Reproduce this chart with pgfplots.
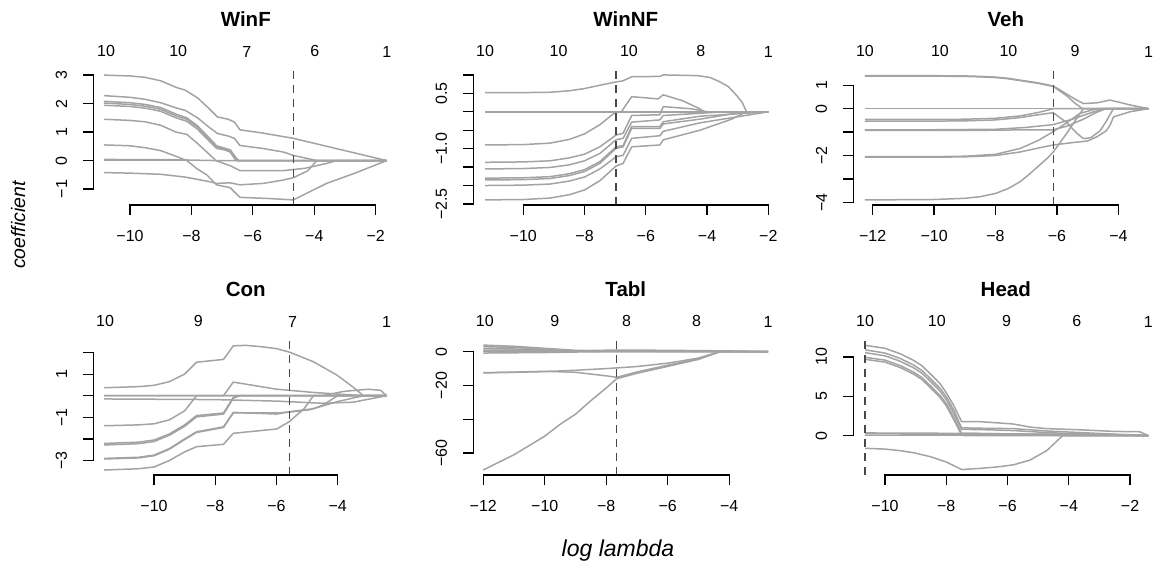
\documentclass[border=0pt]{standalone}
\usepackage{pgfplots}
\pgfplotsset{compat=1.18}
\usepackage{fontspec}
\setmainfont{Liberation Sans}
\definecolor{curvecol}{HTML}{A3A3A3}
\definecolor{dashcol}{HTML}{484848}
\newcommand\tickfont{\fontsize{16bp}{18bp}\selectfont}
\newcommand\titlefont{\fontsize{20.5bp}{24bp}\selectfont\bfseries}
\tikzset{
  cv/.style={color=curvecol, line width=1.5bp, line join=round},
  dl/.style={color=dashcol, line width=1.6bp, dash pattern=on 8bp off 6bp},
  axl/.style={black, line width=1.2bp, line cap=rect},
}
\pgfplotsset{
  rbase/.style={scale only axis, width=305bp, height=134.8bp, anchor=south west, clip=false},
  rpanel/.style={rbase, axis x line*=bottom, axis y line*=left, axis line style={draw=none},
    tick align=outside, major tick length=10bp, tick style={black, line width=1.2bp},
    xticklabel style={font=\tickfont, inner sep=0pt, anchor=north},
    yticklabel style={font=\tickfont, rotate=90, anchor=south, inner sep=0pt},
    xticklabel shift=15bp, yticklabel shift=16bp,
    title style={font=\titlefont, at={(0.5,1)}, anchor=base, yshift=37.5bp}},
  rtop/.style={rbase, axis x line*=top, axis y line=none, axis line style={draw=none},
    major tick length=0pt, ytick=\empty, ymin=0, ymax=1,
    xticklabel style={font=\tickfont, inner sep=0pt, anchor=south}, xticklabel shift=12.9bp},
}
\begin{document}
\begin{tikzpicture}
\path[use as bounding box] (0,0) rectangle (1157bp,562bp);

% ---------------- WinF ----------------
\begin{axis}[rpanel, at={(93.3bp,357bp)}, title={WinF},
  xmin=-11.195, xmax=-1.264, ymin=-1.558, ymax=3.172,
  xtick={-10,-8,-6,-4,-2}, xticklabels={−10,−8,−6,−4,−2},
  ytick={-1,0,1,2,3}, yticklabels={−1,0,1,2,3}]
\addplot[cv] coordinates {(-10.85,3.0)(-10,2.97)(-9.5,2.92)(-9,2.8)(-8.5,2.57)(-8.2,2.47)(-7.8,2.2)(-7.4,1.8)(-7.15,1.53)(-6.8,1.45)(-6.6,1.35)(-6.42,1.08)(-5.7,0.97)(-4.68,0.78)(-1.64,0)};
\addplot[cv] coordinates {(-10.85,2.28)(-10,2.22)(-9.5,2.15)(-9,2.03)(-8.5,1.85)(-8.2,1.76)(-7.8,1.5)(-7.4,1.15)(-7.15,0.95)(-6.8,0.86)(-6.6,0.78)(-6.42,0.53)(-5.7,0.43)(-5,0.3)(-4.68,0.18)(-3.9,0)(-1.64,0)};
\addplot[cv] coordinates {(-10.85,2.08)(-10,2.03)(-9.5,1.97)(-9,1.86)(-8.5,1.63)(-8.15,1.5)(-7.8,1.22)(-7.4,0.77)(-7.18,0.52)(-6.9,0.43)(-6.74,0.38)(-6.55,0.1)(-6.45,0)(-1.64,0)};
\addplot[cv] coordinates {(-10.85,2.02)(-10,1.97)(-9.5,1.91)(-9,1.8)(-8.5,1.57)(-8.15,1.45)(-7.8,1.17)(-7.4,0.72)(-7.18,0.47)(-6.9,0.4)(-6.74,0.34)(-6.55,0.05)(-6.5,0)(-1.64,0)};
\addplot[cv] coordinates {(-10.85,1.94)(-10,1.9)(-9.5,1.84)(-9,1.73)(-8.5,1.5)(-8.15,1.38)(-7.8,1.1)(-7.4,0.66)(-7.18,0.43)(-6.9,0.37)(-6.74,0.3)(-6.6,0.08)(-6.55,0)(-1.64,0)};
\addplot[cv] coordinates {(-10.85,1.45)(-10,1.41)(-9.5,1.36)(-9,1.24)(-8.5,1.0)(-8.15,0.92)(-7.8,0.6)(-7.4,0.2)(-7.2,0)(-1.64,0)};
\addplot[cv] coordinates {(-10.85,0.55)(-10,0.52)(-9.5,0.45)(-9,0.35)(-8.5,0.15)(-8.15,0)(-7.8,-0.3)(-7.5,-0.5)(-7.18,-0.85)(-6.74,-0.95)(-6.42,-1.29)(-5.5,-1.33)(-4.68,-1.38)(-3.6,-0.8)(-2.7,-0.45)(-1.64,0)};
\addplot[cv] coordinates {(-10.85,0.04)(-8.5,0.03)(-7.2,0.0)(-6.74,-0.18)(-6.42,-0.35)(-5,-0.35)(-4.3,-0.27)(-3.6,-0.1)(-3.27,0)(-1.64,0)};
\addplot[cv] coordinates {(-10.85,0)(-1.64,0)};
\addplot[cv] coordinates {(-10.85,-0.42)(-10,-0.44)(-9,-0.48)(-8.2,-0.58)(-7.5,-0.72)(-7.18,-0.8)(-6.74,-0.78)(-6.42,-0.85)(-5.66,-0.8)(-5,-0.68)(-4.68,-0.6)(-4.2,-0.35)(-3.92,0)(-1.64,0)};
\addplot[dl] coordinates {(-4.68,-1.558)(-4.68,3.172)};
\draw[axl] (axis cs:-10,-1.558) -- (axis cs:-2,-1.558);
\draw[axl] (axis cs:-11.195,-1) -- (axis cs:-11.195,3);
\end{axis}
\begin{axis}[rtop, at={(93.3bp,357bp)}, xmin=-11.195, xmax=-1.264,
  xtick={-10.78,-8.43,-6.2,-3.98,-1.64}, xticklabels={10,10,7,6,1}]
\end{axis}

% ---------------- WinNF ----------------
\begin{axis}[rpanel, at={(473.3bp,357bp)}, title={WinNF},
  xmin=-11.632, xmax=-1.673, ymin=-2.528, ymax=1.128,
  xtick={-10,-8,-6,-4,-2}, xticklabels={−10,−8,−6,−4,−2},
  ytick={-2.5,-2,-1.5,-1,-0.5,0,0.5,1}, yticklabels={−2.5,,,−1.0,,,0.5,}]
\addplot[cv] coordinates {(-11.25,0.52)(-10,0.52)(-9.13,0.53)(-8.5,0.57)(-8,0.63)(-7.5,0.72)(-6.97,0.81)(-6.74,0.84)(-6.46,0.95)(-5.54,0.96)(-5.43,1.0)(-4.3,0.98)(-3.9,0.93)(-3.6,0.82)(-3.3,0.68)(-3.04,0.45)(-2.85,0.25)(-2.71,0)(-2,0)};
\addplot[cv] coordinates {(-11.25,0)(-6.8,0)(-6.46,0.41)(-5.6,0.35)(-5.43,0.46)(-4.8,0.3)(-4.23,0.08)(-4.1,0)(-2,0)};
\addplot[cv] coordinates {(-11.25,-0.9)(-10,-0.89)(-9.13,-0.85)(-8.5,-0.75)(-8,-0.6)(-7.5,-0.35)(-7.2,-0.15)(-6.97,0)(-2,0)};
\addplot[cv] coordinates {(-11.25,-1.37)(-10,-1.36)(-9.13,-1.33)(-8.5,-1.25)(-8,-1.15)(-7.5,-0.95)(-6.97,-0.63)(-6.74,-0.58)(-6.46,-0.1)(-5.54,-0.08)(-5.43,0.14)(-4.5,0.08)(-4,0)(-2,0)};
\addplot[cv] coordinates {(-11.25,-1.55)(-10,-1.54)(-9.13,-1.51)(-8.5,-1.44)(-8,-1.33)(-7.5,-1.13)(-6.97,-0.76)(-6.74,-0.72)(-6.46,-0.28)(-5.54,-0.22)(-5.43,-0.1)(-4.2,-0.04)(-3.5,0)(-2,0)};
\addplot[cv] coordinates {(-11.25,-1.8)(-10,-1.79)(-9.13,-1.76)(-8.5,-1.68)(-8,-1.57)(-7.5,-1.35)(-6.97,-0.95)(-6.74,-0.92)(-6.46,-0.4)(-5.54,-0.4)(-5.43,-0.27)(-4.23,-0.12)(-2,0)};
\addplot[cv] coordinates {(-11.25,-1.85)(-10,-1.84)(-9.13,-1.81)(-8.5,-1.73)(-8,-1.62)(-7.5,-1.4)(-6.97,-0.99)(-6.74,-0.95)(-6.46,-0.45)(-5.54,-0.45)(-5.43,-0.33)(-4.23,-0.2)(-3.2,-0.06)(-2.71,0)(-2,0)};
\addplot[cv] coordinates {(-11.25,-2.0)(-10,-1.99)(-9.13,-1.96)(-8.5,-1.88)(-8,-1.77)(-7.5,-1.55)(-6.97,-1.22)(-6.74,-1.18)(-6.46,-0.72)(-5.54,-0.65)(-5.43,-0.53)(-4.23,-0.3)(-2,0)};
\addplot[cv] coordinates {(-11.25,-2.39)(-10,-2.38)(-9.13,-2.34)(-8.5,-2.25)(-8,-2.12)(-7.5,-1.87)(-6.97,-1.47)(-6.74,-1.4)(-6.46,-0.95)(-5.54,-0.9)(-5.43,-0.76)(-4.23,-0.5)(-3.2,-0.2)(-2.71,0)(-2,0)};
\addplot[cv] coordinates {(-11.25,0)(-2,0)};
\addplot[dl] coordinates {(-6.97,-2.528)(-6.97,1.128)};
\draw[axl] (axis cs:-10,-2.528) -- (axis cs:-2,-2.528);
\draw[axl] (axis cs:-11.632,-2.5) -- (axis cs:-11.632,1);
\end{axis}
\begin{axis}[rtop, at={(473.3bp,357bp)}, xmin=-11.632, xmax=-1.673,
  xtick={-11.25,-8.85,-6.55,-4.2,-2.0}, xticklabels={10,10,10,8,1}]
\end{axis}

% ---------------- Veh ----------------
\begin{axis}[rpanel, at={(853.3bp,357bp)}, title={Veh},
  xmin=-12.63, xmax=-2.70, ymin=-4.115, ymax=1.645,
  xtick={-12,-10,-8,-6,-4}, xticklabels={−12,−10,−8,−6,−4},
  ytick={-4,-3,-2,-1,0,1}, yticklabels={−4,,−2,,0,1}]
\addplot[cv] coordinates {(-12.25,1.41)(-10,1.41)(-9,1.4)(-8.5,1.38)(-8,1.35)(-7.6,1.3)(-7.2,1.22)(-6.6,1.1)(-6.12,0.97)(-5.9,0.8)(-5.68,0.62)(-5.4,0.4)(-5.14,0.22)(-4.7,0.25)(-4.27,0.37)(-3.62,0.16)(-3.02,0)};
\addplot[cv] coordinates {(-12.25,1.39)(-10,1.39)(-9,1.38)(-8.5,1.36)(-8,1.33)(-7.6,1.28)(-7.2,1.2)(-6.6,1.08)(-6.12,0.95)(-5.9,0.75)(-5.68,0.55)(-5.4,0.22)(-5.2,0.03)(-5.14,0)(-3.02,0)};
\addplot[cv] coordinates {(-12.25,0)(-3.02,0)};
\addplot[cv] coordinates {(-12.25,-0.46)(-10,-0.46)(-9,-0.45)(-8,-0.41)(-7.2,-0.31)(-6.6,-0.16)(-6.12,0)(-3.02,0)};
\addplot[cv] coordinates {(-12.25,-0.53)(-10,-0.53)(-9,-0.52)(-8,-0.48)(-7.2,-0.38)(-6.6,-0.26)(-6.12,-0.17)(-5.68,-0.6)(-5.35,-1.05)(-5.14,-1.28)(-4.9,-1.24)(-4.6,-0.95)(-4.4,-0.55)(-4.25,-0.2)(-4.16,0)(-3.02,0)};
\addplot[cv] coordinates {(-12.25,-0.9)(-10,-0.9)(-8,-0.88)(-7,-0.8)(-6.12,-0.68)(-5.5,-0.45)(-5,-0.22)(-4.5,0)(-3.02,0)};
\addplot[cv] coordinates {(-12.25,-0.93)(-10,-0.93)(-8,-0.92)(-7,-0.9)(-6.12,-0.9)(-5.68,-0.75)(-5.14,-0.45)(-4.7,-0.15)(-4.4,0)(-3.02,0)};
\addplot[cv] coordinates {(-12.25,-2.05)(-10,-2.05)(-9,-2.03)(-8,-1.95)(-7.2,-1.7)(-6.6,-1.35)(-6.12,-0.98)(-5.68,-0.6)(-5.25,-0.2)(-4.7,0)(-3.02,0)};
\addplot[cv] coordinates {(-12.25,-2.07)(-10,-2.07)(-9,-2.06)(-8,-2.0)(-7.2,-1.85)(-6.6,-1.68)(-6.12,-1.55)(-5.5,-1.45)(-5.0,-1.38)(-4.7,-1.2)(-4.4,-0.95)(-4.27,-0.7)(-4.16,-0.35)(-3.62,-0.13)(-3.02,0)};
\addplot[cv] coordinates {(-12.25,-3.9)(-10,-3.88)(-9,-3.83)(-8.5,-3.76)(-8,-3.62)(-7.6,-3.42)(-7.2,-3.12)(-6.9,-2.8)(-6.6,-2.45)(-6.3,-2.1)(-6.12,-1.85)(-5.9,-1.45)(-5.68,-1.05)(-5.4,-0.5)(-5.14,0)(-3.02,0)};
\addplot[dl] coordinates {(-6.115,-4.115)(-6.115,1.645)};
\draw[axl] (axis cs:-12,-4.115) -- (axis cs:-4,-4.115);
\draw[axl] (axis cs:-12.63,-4) -- (axis cs:-12.63,1);
\end{axis}
\begin{axis}[rtop, at={(853.3bp,357bp)}, xmin=-12.63, xmax=-2.70,
  xtick={-12.25,-9.81,-7.58,-5.41,-3.02}, xticklabels={10,10,10,9,1}]
\end{axis}

% ---------------- Con ----------------
\begin{axis}[rpanel, at={(93.3bp,87bp)}, title={Con},
  xmin=-11.983, xmax=-2.02, ymin=-3.67, ymax=2.57,
  xtick={-10,-8,-6,-4}, xticklabels={−10,−8,−6,−4},
  ytick={-3,-2,-1,0,1,2}, yticklabels={−3,,−1,,1,}]
\addplot[cv] coordinates {(-11.63,0.37)(-10.5,0.42)(-10,0.48)(-9.5,0.65)(-9,1.0)(-8.61,1.55)(-7.73,1.68)(-7.41,2.31)(-7,2.33)(-6.5,2.27)(-6,2.18)(-5.58,2.02)(-4.79,1.57)(-4.03,0.96)(-3.5,0.4)(-3.16,0)(-2.4,0)};
\addplot[cv] coordinates {(-11.63,0)(-7.73,0)(-7.41,0.63)(-5.99,0.3)(-4.79,0.15)(-3.16,0)(-2.4,0)};
\addplot[cv] coordinates {(-11.63,-0.15)(-8,-0.18)(-6,-0.25)(-4.5,-0.35)(-3.5,-0.3)(-2.4,0)};
\addplot[cv] coordinates {(-11.63,0)(-4.5,0)(-3.8,0.2)(-3,0.3)(-2.6,0.25)(-2.4,0)};
\addplot[cv] coordinates {(-11.63,-1.39)(-10.5,-1.35)(-10,-1.3)(-9.5,-1.12)(-9,-0.7)(-8.61,0)(-2.4,0)};
\addplot[cv] coordinates {(-11.63,-2.21)(-10.5,-2.15)(-10,-2.05)(-9.5,-1.77)(-9,-1.35)(-8.61,-0.92)(-7.73,-0.8)(-7.41,-0.08)(-7.3,0)(-2.4,0)};
\addplot[cv] coordinates {(-11.63,-2.28)(-10.5,-2.22)(-10,-2.12)(-9.5,-1.83)(-9,-1.42)(-8.61,-0.98)(-7.73,-0.85)(-7.41,-0.12)(-7.2,0)(-2.4,0)};
\addplot[cv] coordinates {(-11.63,-2.9)(-10.5,-2.85)(-10,-2.75)(-9.5,-2.45)(-9,-2.0)(-8.61,-1.67)(-7.73,-1.44)(-7.41,-0.77)(-5.99,-0.85)(-5.58,-0.74)(-4.79,-0.6)(-4.03,-0.28)(-3.16,0)(-2.4,0)};
\addplot[cv] coordinates {(-11.63,-2.93)(-10.5,-2.88)(-10,-2.78)(-9.5,-2.48)(-9,-2.03)(-8.61,-1.7)(-7.73,-1.47)(-7.41,-0.8)(-5.99,-0.8)(-5.58,-0.76)(-4.9,-0.65)(-4.5,-0.45)(-4.0,0)(-2.4,0)};
\addplot[cv] coordinates {(-11.63,-3.44)(-10.5,-3.38)(-10,-3.3)(-9.5,-3.0)(-9,-2.6)(-8.61,-2.36)(-7.73,-2.25)(-7.41,-1.74)(-5.99,-1.54)(-5.58,-1.2)(-5.1,-0.6)(-4.79,0)(-2.4,0)};
\addplot[dl] coordinates {(-5.58,-3.67)(-5.58,2.57)};
\draw[axl] (axis cs:-10,-3.67) -- (axis cs:-4,-3.67);
\draw[axl] (axis cs:-11.983,-3) -- (axis cs:-11.983,2);
\end{axis}
\begin{axis}[rtop, at={(93.3bp,87bp)}, xmin=-11.983, xmax=-2.02,
  xtick={-11.6,-8.55,-5.47,-2.4}, xticklabels={10,9,7,1}]
\end{axis}

% ---------------- Tabl ----------------
\begin{axis}[rpanel, at={(473.3bp,87bp)}, title={Tabl},
  xmin=-12.325, xmax=-2.40, ymin=-73.0, ymax=6.8,
  xtick={-12,-10,-8,-6,-4}, xticklabels={−12,−10,−8,−6,−4},
  ytick={-60,-40,-20,0}, yticklabels={−60,,−20,0}]
\addplot[cv] coordinates {(-12,3.9)(-11,3.2)(-10,2.0)(-9,0.8)(-8,0.4)(-6,0.3)(-4.3,0.2)(-2.73,0)};
\addplot[cv] coordinates {(-12,3.0)(-11,2.5)(-10,1.5)(-9,0.5)(-8,0.2)(-4.3,0)(-2.73,0)};
\addplot[cv] coordinates {(-12,2.0)(-11,1.6)(-10,1.0)(-9,0.3)(-8,0)(-2.73,0)};
\addplot[cv] coordinates {(-12,1.0)(-10,0.8)(-9,0.5)(-7.66,1.0)(-6,0.8)(-4.3,0.5)(-3.5,0.3)(-2.73,0)};
\addplot[cv] coordinates {(-12,0)(-2.73,0)};
\addplot[cv] coordinates {(-12,-0.8)(-10,-0.5)(-9,-0.2)(-8,0)(-2.73,0)};
\addplot[cv] coordinates {(-12,-12.4)(-11,-12.2)(-10,-11.8)(-9,-11)(-8,-10)(-7.66,-9.6)(-7,-8.8)(-6,-6.8)(-5,-3.8)(-4.3,0)(-2.73,0)};
\addplot[cv] coordinates {(-12,-12.6)(-11,-12.1)(-10,-11.6)(-9,-12.2)(-8,-14.3)(-7.66,-15.2)(-7,-12)(-6,-8)(-5,-4.2)(-4.3,0)(-2.73,0)};
\addplot[cv] coordinates {(-12,-70)(-11,-61)(-10,-50)(-9.5,-43)(-9,-37)(-8.5,-29)(-8,-21.5)(-7.66,-16)(-7,-12.8)(-6,-8.7)(-5,-4.6)(-4.3,0)(-2.73,0)};
\addplot[dl] coordinates {(-7.66,-73.0)(-7.66,6.8)};
\draw[axl] (axis cs:-12,-73.0) -- (axis cs:-4,-73.0);
\draw[axl] (axis cs:-12.325,-60) -- (axis cs:-12.325,0);
\end{axis}
\begin{axis}[rtop, at={(473.3bp,87bp)}, xmin=-12.325, xmax=-2.40,
  xtick={-11.95,-9.67,-7.34,-5.06,-2.73}, xticklabels={10,9,8,8,1}]
\end{axis}

% ---------------- Head ----------------
\begin{axis}[rpanel, at={(853.3bp,87bp)}, title={Head},
  xmin=-11.035, xmax=-1.077, ymin=-4.99, ymax=12.13,
  xtick={-10,-8,-6,-4,-2}, xticklabels={−10,−8,−6,−4,−2},
  ytick={0,5,10}, yticklabels={0,5,10}]
\addplot[cv] coordinates {(-10.65,11.48)(-10,11.1)(-9.5,10.4)(-9.08,9.6)(-8.8,8.9)(-8.53,7.9)(-8.2,6.6)(-7.99,5.4)(-7.75,3.8)(-7.5,1.78)(-6.9,1.78)(-6.2,1.6)(-5.8,1.48)(-5.27,1.1)(-4.72,0.9)(-3.63,0.75)(-2.55,0.55)(-1.68,0.5)(-1.4,0)};
\addplot[cv] coordinates {(-10.65,10.9)(-10,10.5)(-9.5,9.8)(-9.08,9.0)(-8.8,8.3)(-8.53,7.3)(-8.2,6.0)(-7.99,4.9)(-7.75,3.2)(-7.5,1.0)(-6.9,0.95)(-5.8,0.9)(-4.72,0.6)(-3.63,0.4)(-2.55,0.2)(-1.4,0)};
\addplot[cv] coordinates {(-10.65,10.55)(-10,10.15)(-9.5,9.45)(-9.08,8.65)(-8.8,7.95)(-8.53,6.95)(-8.2,5.65)(-7.99,4.5)(-7.75,2.8)(-7.5,0.8)(-6.9,0.78)(-5.8,0.65)(-4.72,0.4)(-3,0.1)(-1.4,0)};
\addplot[cv] coordinates {(-10.65,9.96)(-10,9.6)(-9.5,8.9)(-9.08,8.1)(-8.8,7.4)(-8.53,6.4)(-8.2,5.1)(-7.99,4.0)(-7.75,2.3)(-7.5,0.3)(-6.9,0.28)(-5.8,0.2)(-4.5,0.05)(-4,0)(-1.4,0)};
\addplot[cv] coordinates {(-10.65,9.7)(-10,9.35)(-9.5,8.65)(-9.08,7.85)(-8.8,7.15)(-8.53,6.15)(-8.2,4.85)(-7.99,3.75)(-7.75,2.0)(-7.5,0.1)(-7.4,0)(-1.4,0)};
\addplot[cv] coordinates {(-10.65,0.22)(-3,0.2)(-1.68,0.1)(-1.4,0)};
\addplot[cv] coordinates {(-10.65,0.35)(-7.5,0.3)(-5,0.2)(-1.4,0)};
\addplot[cv] coordinates {(-10.65,0)(-1.4,0)};
\addplot[cv] coordinates {(-10.65,-1.6)(-10,-1.7)(-9.5,-1.9)(-9.08,-2.15)(-8.53,-2.65)(-7.99,-3.35)(-7.5,-4.3)(-6.9,-4.15)(-6.3,-3.95)(-5.81,-3.7)(-5.27,-3.1)(-4.72,-1.9)(-4.23,-0.1)(-4.2,0)(-1.4,0)};
\addplot[dl] coordinates {(-10.65,-4.99)(-10.65,12.13)};
\draw[axl] (axis cs:-10,-4.99) -- (axis cs:-2,-4.99);
\draw[axl] (axis cs:-11.035,0) -- (axis cs:-11.035,10);
\end{axis}
\begin{axis}[rtop, at={(853.3bp,87bp)}, xmin=-11.035, xmax=-1.077,
  xtick={-10.65,-8.31,-6.03,-3.74,-1.40}, xticklabels={10,10,9,6,1}]
\end{axis}

\node[font=\fontsize{19.5bp}{22bp}\selectfont\itshape, rotate=90, anchor=base] at (25bp,337bp) {coefficient};
\node[font=\fontsize{23bp}{26bp}\selectfont\itshape, anchor=base] at (618bp,6bp) {log lambda};
\end{tikzpicture}
\end{document}
